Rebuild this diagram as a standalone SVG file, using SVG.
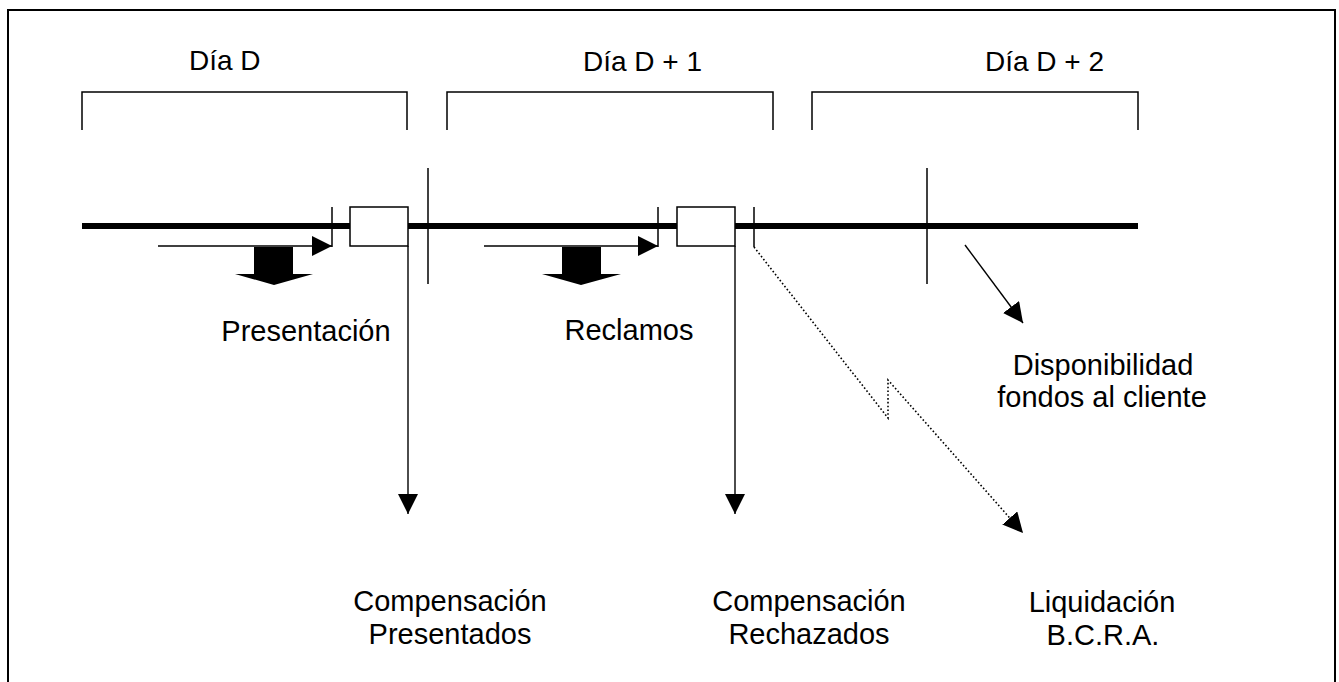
<svg xmlns="http://www.w3.org/2000/svg" width="1339" height="682" viewBox="0 0 1339 682">
<style>
.t{font-family:"Liberation Sans",Arial,sans-serif;fill:#000}
.top{font-size:28px}
.lbl{font-size:29px;text-anchor:middle}
.thin{stroke:#000;stroke-width:1.5;fill:none}
.arr{stroke:#000;stroke-width:1.4;fill:none}
.dot{stroke:#000;stroke-width:1.6;fill:none;stroke-dasharray:1.6 2.2}
</style>
<defs>
<marker id="ah" markerUnits="userSpaceOnUse" viewBox="0 0 20 20" refX="20" refY="10" markerWidth="20" markerHeight="20" orient="auto">
<path d="M0,0 L20,10 L0,20 Z" fill="#000"/>
</marker>
</defs>
<rect width="1339" height="682" fill="#fff"/>
<rect x="8" y="10" width="1327" height="690" fill="none" stroke="#000" stroke-width="2"/>

<g id="dias">
<text class="t top" x="189" y="70">Día D</text>
<text class="t top" x="583" y="71">Día D + 1</text>
<text class="t top" x="985" y="71">Día D + 2</text>
<path class="thin" d="M82,130 V92 H407 V130"/>
<path class="thin" d="M447,130 V92 H773 V130"/>
<path class="thin" d="M812,130 V92 H1138 V130"/>
</g>

<g id="timeline">
<line x1="82" y1="226" x2="1138" y2="226" stroke="#000" stroke-width="6"/>
<line class="thin" x1="332" y1="207" x2="332" y2="247"/>
<line class="thin" x1="658" y1="207" x2="658" y2="247"/>
<line class="thin" x1="754" y1="207" x2="754" y2="247"/>
<line class="thin" x1="428" y1="168" x2="428" y2="284"/>
<line class="thin" x1="927" y1="168" x2="927" y2="284"/>
<rect x="350" y="207" width="58" height="39" fill="#fff" stroke="#000" stroke-width="1.5"/>
<rect x="677" y="207" width="58" height="39" fill="#fff" stroke="#000" stroke-width="1.5"/>
</g>

<g id="presentacion">
<polygon points="254,247 293,247 293,274 313,274 274,285 235,274 254,274" fill="#000"/>
<text class="t lbl" x="306" y="341">Presentación</text>
</g>
<g id="reclamos">
<polygon points="562,247 601,247 601,274 621,274 581,285 542,274 562,274" fill="#000"/>
<text class="t lbl" x="629" y="340">Reclamos</text>
</g>
<g id="comp-presentados">
<text class="t lbl" x="450" y="611">Compensación</text>
<text class="t lbl" x="450" y="644">Presentados</text>
</g>
<g id="comp-rechazados">
<text class="t lbl" x="809" y="611">Compensación</text>
<text class="t lbl" x="809" y="644">Rechazados</text>
</g>
<g id="disponibilidad">
<text class="t lbl" x="1103" y="375">Disponibilidad</text>
<text class="t lbl" x="1102" y="407">fondos al cliente</text>
</g>
<g id="liquidacion">
<text class="t lbl" x="1102" y="612">Liquidación</text>
<text class="t lbl" x="1103" y="645">B.C.R.A.</text>
</g>

<g id="connectors">
<line class="arr" x1="158" y1="246" x2="332" y2="246" marker-end="url(#ah)"/>
<line class="arr" x1="484" y1="246" x2="658" y2="246" marker-end="url(#ah)"/>
<line class="arr" x1="408" y1="246" x2="408" y2="514" marker-end="url(#ah)"/>
<line class="arr" x1="735" y1="246" x2="735" y2="514" marker-end="url(#ah)"/>
<line class="arr" x1="965" y1="245" x2="1023" y2="323" marker-end="url(#ah)"/>
<polyline class="dot" points="754,247 888,418 888,380 1023,533" marker-end="url(#ah)"/>
</g>
</svg>
